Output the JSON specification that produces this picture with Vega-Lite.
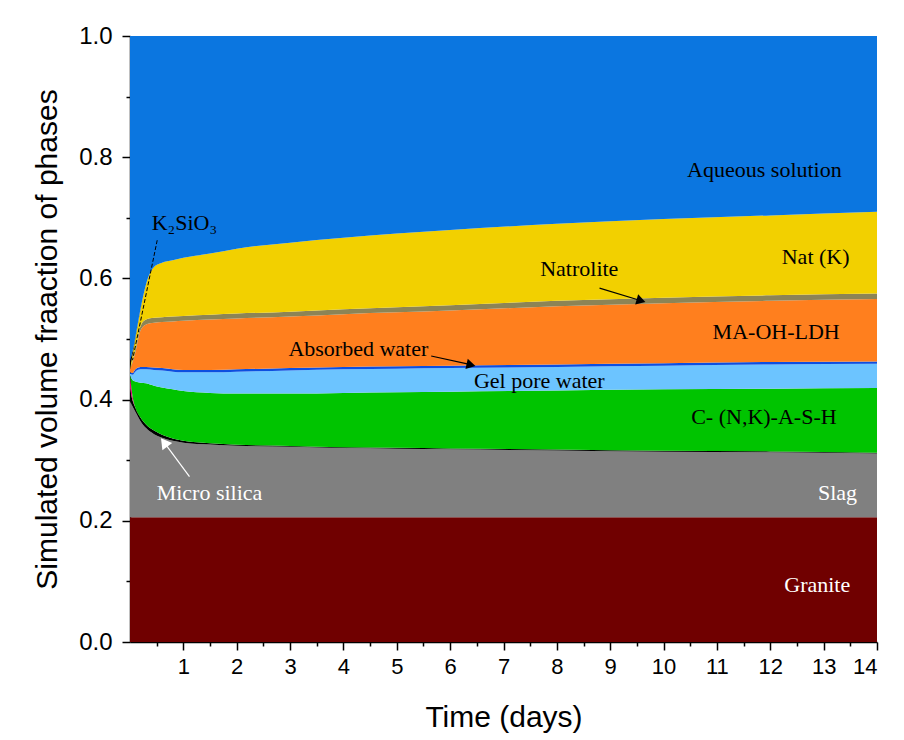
{
"$schema": "https://vega.github.io/schema/vega-lite/v6.json",
"width": 747, "height": 606,
"autosize": {"type": "none"},
"padding": {"left": 130, "top": 36, "right": 27, "bottom": 98},
"background": "white",
"config": {"view": {"stroke": null},
 "axis": {"domainColor": "black", "tickColor": "black", "labelColor": "black", "titleColor": "black", "labelFont": "Liberation Sans", "titleFont": "Liberation Sans", "titleFontWeight": "normal", "grid": false, "domainWidth": 1.5, "tickWidth": 1.5}},
"datasets": {
"a": [
{"t":0,"p":"Granite","k":1,"v":0.206},{"t":0,"p":"Slag","k":2,"v":0.192},{"t":0,"p":"Micro silica","k":3,"v":0.020},{"t":0,"p":"Other","k":4,"v":0.022},{"t":0,"p":"C-(N,K)-A-S-H","k":5,"v":0},{"t":0,"p":"Gel pore water","k":6,"v":0.003},{"t":0,"p":"Absorbed water","k":7,"v":0.002},{"t":0,"p":"MA-OH-LDH","k":8,"v":0.005},{"t":0,"p":"Natrolite","k":9,"v":0.001},{"t":0,"p":"Nat (K)","k":10,"v":0.001},{"t":0,"p":"K2SiO3","k":11,"v":0.012},{"t":0,"p":"Aqueous solution","k":12,"v":0.536},
{"t":0.05,"p":"Granite","k":1,"v":0.206},{"t":0.05,"p":"Slag","k":2,"v":0.182},{"t":0.05,"p":"Micro silica","k":3,"v":0.010},{"t":0.05,"p":"Other","k":4,"v":0.006},{"t":0.05,"p":"C-(N,K)-A-S-H","k":5,"v":0.028},{"t":0.05,"p":"Gel pore water","k":6,"v":0.009},{"t":0.05,"p":"Absorbed water","k":7,"v":0.003},{"t":0.05,"p":"MA-OH-LDH","k":8,"v":0.018},{"t":0.05,"p":"Natrolite","k":9,"v":0.003},{"t":0.05,"p":"Nat (K)","k":10,"v":0.010},{"t":0.05,"p":"K2SiO3","k":11,"v":0.006},{"t":0.05,"p":"Aqueous solution","k":12,"v":0.519},
{"t":0.1,"p":"Granite","k":1,"v":0.206},{"t":0.1,"p":"Slag","k":2,"v":0.174},{"t":0.1,"p":"Micro silica","k":3,"v":0.007},{"t":0.1,"p":"Other","k":4,"v":0},{"t":0.1,"p":"C-(N,K)-A-S-H","k":5,"v":0.043},{"t":0.1,"p":"Gel pore water","k":6,"v":0.016},{"t":0.1,"p":"Absorbed water","k":7,"v":0.004},{"t":0.1,"p":"MA-OH-LDH","k":8,"v":0.028},{"t":0.1,"p":"Natrolite","k":9,"v":0.005},{"t":0.1,"p":"Nat (K)","k":10,"v":0.017},{"t":0.1,"p":"K2SiO3","k":11,"v":0.003},{"t":0.1,"p":"Aqueous solution","k":12,"v":0.497},
{"t":0.2,"p":"Granite","k":1,"v":0.206},{"t":0.2,"p":"Slag","k":2,"v":0.158},{"t":0.2,"p":"Micro silica","k":3,"v":0.006},{"t":0.2,"p":"Other","k":4,"v":0},{"t":0.2,"p":"C-(N,K)-A-S-H","k":5,"v":0.058},{"t":0.2,"p":"Gel pore water","k":6,"v":0.022},{"t":0.2,"p":"Absorbed water","k":7,"v":0.004},{"t":0.2,"p":"MA-OH-LDH","k":8,"v":0.061},{"t":0.2,"p":"Natrolite","k":9,"v":0.007},{"t":0.2,"p":"Nat (K)","k":10,"v":0.028},{"t":0.2,"p":"K2SiO3","k":11,"v":0.001},{"t":0.2,"p":"Aqueous solution","k":12,"v":0.449},
{"t":0.3,"p":"Granite","k":1,"v":0.206},{"t":0.3,"p":"Slag","k":2,"v":0.147},{"t":0.3,"p":"Micro silica","k":3,"v":0.006},{"t":0.3,"p":"Other","k":4,"v":0},{"t":0.3,"p":"C-(N,K)-A-S-H","k":5,"v":0.068},{"t":0.3,"p":"Gel pore water","k":6,"v":0.023},{"t":0.3,"p":"Absorbed water","k":7,"v":0.004},{"t":0.3,"p":"MA-OH-LDH","k":8,"v":0.070},{"t":0.3,"p":"Natrolite","k":9,"v":0.008},{"t":0.3,"p":"Nat (K)","k":10,"v":0.058},{"t":0.3,"p":"K2SiO3","k":11,"v":0},{"t":0.3,"p":"Aqueous solution","k":12,"v":0.410},
{"t":0.45,"p":"Granite","k":1,"v":0.206},{"t":0.45,"p":"Slag","k":2,"v":0.137},{"t":0.45,"p":"Micro silica","k":3,"v":0.006},{"t":0.45,"p":"Other","k":4,"v":0},{"t":0.45,"p":"C-(N,K)-A-S-H","k":5,"v":0.074},{"t":0.45,"p":"Gel pore water","k":6,"v":0.026},{"t":0.45,"p":"Absorbed water","k":7,"v":0.004},{"t":0.45,"p":"MA-OH-LDH","k":8,"v":0.074},{"t":0.45,"p":"Natrolite","k":9,"v":0.008},{"t":0.45,"p":"Nat (K)","k":10,"v":0.084},{"t":0.45,"p":"K2SiO3","k":11,"v":0},{"t":0.45,"p":"Aqueous solution","k":12,"v":0.381},
{"t":0.6,"p":"Granite","k":1,"v":0.206},{"t":0.6,"p":"Slag","k":2,"v":0.131},{"t":0.6,"p":"Micro silica","k":3,"v":0.005},{"t":0.6,"p":"Other","k":4,"v":0},{"t":0.6,"p":"C-(N,K)-A-S-H","k":5,"v":0.078},{"t":0.6,"p":"Gel pore water","k":6,"v":0.028},{"t":0.6,"p":"Absorbed water","k":7,"v":0.004},{"t":0.6,"p":"MA-OH-LDH","k":8,"v":0.076},{"t":0.6,"p":"Natrolite","k":9,"v":0.008},{"t":0.6,"p":"Nat (K)","k":10,"v":0.090},{"t":0.6,"p":"K2SiO3","k":11,"v":0},{"t":0.6,"p":"Aqueous solution","k":12,"v":0.374},
{"t":0.8,"p":"Granite","k":1,"v":0.206},{"t":0.8,"p":"Slag","k":2,"v":0.126},{"t":0.8,"p":"Micro silica","k":3,"v":0.004},{"t":0.8,"p":"Other","k":4,"v":0},{"t":0.8,"p":"C-(N,K)-A-S-H","k":5,"v":0.081},{"t":0.8,"p":"Gel pore water","k":6,"v":0.029},{"t":0.8,"p":"Absorbed water","k":7,"v":0.004},{"t":0.8,"p":"MA-OH-LDH","k":8,"v":0.079},{"t":0.8,"p":"Natrolite","k":9,"v":0.008},{"t":0.8,"p":"Nat (K)","k":10,"v":0.093},{"t":0.8,"p":"K2SiO3","k":11,"v":0},{"t":0.8,"p":"Aqueous solution","k":12,"v":0.370},
{"t":1,"p":"Granite","k":1,"v":0.206},{"t":1,"p":"Slag","k":2,"v":0.123},{"t":1,"p":"Micro silica","k":3,"v":0.003},{"t":1,"p":"Other","k":4,"v":0},{"t":1,"p":"C-(N,K)-A-S-H","k":5,"v":0.082},{"t":1,"p":"Gel pore water","k":6,"v":0.031},{"t":1,"p":"Absorbed water","k":7,"v":0.004},{"t":1,"p":"MA-OH-LDH","k":8,"v":0.081},{"t":1,"p":"Natrolite","k":9,"v":0.008},{"t":1,"p":"Nat (K)","k":10,"v":0.096},{"t":1,"p":"K2SiO3","k":11,"v":0},{"t":1,"p":"Aqueous solution","k":12,"v":0.366},
{"t":1.5,"p":"Granite","k":1,"v":0.206},{"t":1.5,"p":"Slag","k":2,"v":0.120},{"t":1.5,"p":"Micro silica","k":3,"v":0.002},{"t":1.5,"p":"Other","k":4,"v":0},{"t":1.5,"p":"C-(N,K)-A-S-H","k":5,"v":0.083},{"t":1.5,"p":"Gel pore water","k":6,"v":0.034},{"t":1.5,"p":"Absorbed water","k":7,"v":0.004},{"t":1.5,"p":"MA-OH-LDH","k":8,"v":0.083},{"t":1.5,"p":"Natrolite","k":9,"v":0.008},{"t":1.5,"p":"Nat (K)","k":10,"v":0.101},{"t":1.5,"p":"K2SiO3","k":11,"v":0},{"t":1.5,"p":"Aqueous solution","k":12,"v":0.359},
{"t":2,"p":"Granite","k":1,"v":0.206},{"t":2,"p":"Slag","k":2,"v":0.118},{"t":2,"p":"Micro silica","k":3,"v":0.0015},{"t":2,"p":"Other","k":4,"v":0},{"t":2,"p":"C-(N,K)-A-S-H","k":5,"v":0.0845},{"t":2,"p":"Gel pore water","k":6,"v":0.036},{"t":2,"p":"Absorbed water","k":7,"v":0.004},{"t":2,"p":"MA-OH-LDH","k":8,"v":0.084},{"t":2,"p":"Natrolite","k":9,"v":0.008},{"t":2,"p":"Nat (K)","k":10,"v":0.107},{"t":2,"p":"K2SiO3","k":11,"v":0},{"t":2,"p":"Aqueous solution","k":12,"v":0.351},
{"t":3,"p":"Granite","k":1,"v":0.206},{"t":3,"p":"Slag","k":2,"v":0.116},{"t":3,"p":"Micro silica","k":3,"v":0.0015},{"t":3,"p":"Other","k":4,"v":0},{"t":3,"p":"C-(N,K)-A-S-H","k":5,"v":0.0865},{"t":3,"p":"Gel pore water","k":6,"v":0.038},{"t":3,"p":"Absorbed water","k":7,"v":0.004},{"t":3,"p":"MA-OH-LDH","k":8,"v":0.085},{"t":3,"p":"Natrolite","k":9,"v":0.008},{"t":3,"p":"Nat (K)","k":10,"v":0.114},{"t":3,"p":"K2SiO3","k":11,"v":0},{"t":3,"p":"Aqueous solution","k":12,"v":0.341},
{"t":4,"p":"Granite","k":1,"v":0.206},{"t":4,"p":"Slag","k":2,"v":0.114},{"t":4,"p":"Micro silica","k":3,"v":0.0015},{"t":4,"p":"Other","k":4,"v":0},{"t":4,"p":"C-(N,K)-A-S-H","k":5,"v":0.0895},{"t":4,"p":"Gel pore water","k":6,"v":0.039},{"t":4,"p":"Absorbed water","k":7,"v":0.004},{"t":4,"p":"MA-OH-LDH","k":8,"v":0.087},{"t":4,"p":"Natrolite","k":9,"v":0.008},{"t":4,"p":"Nat (K)","k":10,"v":0.118},{"t":4,"p":"K2SiO3","k":11,"v":0},{"t":4,"p":"Aqueous solution","k":12,"v":0.333},
{"t":5,"p":"Granite","k":1,"v":0.206},{"t":5,"p":"Slag","k":2,"v":0.113},{"t":5,"p":"Micro silica","k":3,"v":0.0015},{"t":5,"p":"Other","k":4,"v":0},{"t":5,"p":"C-(N,K)-A-S-H","k":5,"v":0.0915},{"t":5,"p":"Gel pore water","k":6,"v":0.039},{"t":5,"p":"Absorbed water","k":7,"v":0.004},{"t":5,"p":"MA-OH-LDH","k":8,"v":0.089},{"t":5,"p":"Natrolite","k":9,"v":0.0085},{"t":5,"p":"Nat (K)","k":10,"v":0.1215},{"t":5,"p":"K2SiO3","k":11,"v":0},{"t":5,"p":"Aqueous solution","k":12,"v":0.326},
{"t":6,"p":"Granite","k":1,"v":0.206},{"t":6,"p":"Slag","k":2,"v":0.112},{"t":6,"p":"Micro silica","k":3,"v":0.0015},{"t":6,"p":"Other","k":4,"v":0},{"t":6,"p":"C-(N,K)-A-S-H","k":5,"v":0.0935},{"t":6,"p":"Gel pore water","k":6,"v":0.039},{"t":6,"p":"Absorbed water","k":7,"v":0.004},{"t":6,"p":"MA-OH-LDH","k":8,"v":0.091},{"t":6,"p":"Natrolite","k":9,"v":0.0085},{"t":6,"p":"Nat (K)","k":10,"v":0.1245},{"t":6,"p":"K2SiO3","k":11,"v":0},{"t":6,"p":"Aqueous solution","k":12,"v":0.320},
{"t":8,"p":"Granite","k":1,"v":0.206},{"t":8,"p":"Slag","k":2,"v":0.110},{"t":8,"p":"Micro silica","k":3,"v":0.0015},{"t":8,"p":"Other","k":4,"v":0},{"t":8,"p":"C-(N,K)-A-S-H","k":5,"v":0.0975},{"t":8,"p":"Gel pore water","k":6,"v":0.039},{"t":8,"p":"Absorbed water","k":7,"v":0.004},{"t":8,"p":"MA-OH-LDH","k":8,"v":0.096},{"t":8,"p":"Natrolite","k":9,"v":0.009},{"t":8,"p":"Nat (K)","k":10,"v":0.127},{"t":8,"p":"K2SiO3","k":11,"v":0},{"t":8,"p":"Aqueous solution","k":12,"v":0.310},
{"t":10,"p":"Granite","k":1,"v":0.206},{"t":10,"p":"Slag","k":2,"v":0.108},{"t":10,"p":"Micro silica","k":3,"v":0.0015},{"t":10,"p":"Other","k":4,"v":0},{"t":10,"p":"C-(N,K)-A-S-H","k":5,"v":0.1015},{"t":10,"p":"Gel pore water","k":6,"v":0.039},{"t":10,"p":"Absorbed water","k":7,"v":0.004},{"t":10,"p":"MA-OH-LDH","k":8,"v":0.099},{"t":10,"p":"Natrolite","k":9,"v":0.009},{"t":10,"p":"Nat (K)","k":10,"v":0.130},{"t":10,"p":"K2SiO3","k":11,"v":0},{"t":10,"p":"Aqueous solution","k":12,"v":0.302},
{"t":12,"p":"Granite","k":1,"v":0.206},{"t":12,"p":"Slag","k":2,"v":0.107},{"t":12,"p":"Micro silica","k":3,"v":0.0015},{"t":12,"p":"Other","k":4,"v":0},{"t":12,"p":"C-(N,K)-A-S-H","k":5,"v":0.1035},{"t":12,"p":"Gel pore water","k":6,"v":0.040},{"t":12,"p":"Absorbed water","k":7,"v":0.004},{"t":12,"p":"MA-OH-LDH","k":8,"v":0.101},{"t":12,"p":"Natrolite","k":9,"v":0.009},{"t":12,"p":"Nat (K)","k":10,"v":0.132},{"t":12,"p":"K2SiO3","k":11,"v":0},{"t":12,"p":"Aqueous solution","k":12,"v":0.296},
{"t":14,"p":"Granite","k":1,"v":0.206},{"t":14,"p":"Slag","k":2,"v":0.105},{"t":14,"p":"Micro silica","k":3,"v":0.0015},{"t":14,"p":"Other","k":4,"v":0},{"t":14,"p":"C-(N,K)-A-S-H","k":5,"v":0.1065},{"t":14,"p":"Gel pore water","k":6,"v":0.040},{"t":14,"p":"Absorbed water","k":7,"v":0.004},{"t":14,"p":"MA-OH-LDH","k":8,"v":0.103},{"t":14,"p":"Natrolite","k":9,"v":0.009},{"t":14,"p":"Nat (K)","k":10,"v":0.135},{"t":14,"p":"K2SiO3","k":11,"v":0},{"t":14,"p":"Aqueous solution","k":12,"v":0.290}
],
"labBlack": [
{"t":11.89,"y":0.779,"s":"Aqueous solution"},
{"t":1.02,"y":0.692,"s":"K₂SiO₃"},
{"t":12.85,"y":0.635,"s":"Nat (K)"},
{"t":8.42,"y":0.616,"s":"Natrolite"},
{"t":12.11,"y":0.512,"s":"MA-OH-LDH"},
{"t":4.28,"y":0.483,"s":"Absorbed water"},
{"t":7.67,"y":0.431,"s":"Gel pore water"},
{"t":11.88,"y":0.372,"s":"C- (N,K)-A-S-H"}
],
"labWhite": [
{"t":13.26,"y":0.246,"s":"Slag"},
{"t":1.49,"y":0.246,"s":"Micro silica"},
{"t":12.88,"y":0.094,"s":"Granite"}
],
"dash": [{"t":0.51,"y":0.663,"t2":0.047,"y2":0.465}],
"arr": [{"t":8.8,"y":0.584,"t2":9.55,"y2":0.564},{"t":5.645,"y":0.472,"t2":6.364,"y2":0.458}],
"headNat": [{"t":9.55,"y":0.564}],
"headAbs": [{"t":6.364,"y":0.4578}],
"arrW": [{"t":1.115,"y":0.273,"t2":0.66,"y2":0.327}],
"headW": [{"t":0.66,"y":0.327}]
},
"layer": [
{"data": {"name": "a"},
 "mark": {"type": "area", "interpolate": "monotone"},
 "encoding": {
  "x": {"field": "t", "type": "quantitative", "scale": {"domain": [0, 14], "nice": false},
        "axis": {"orient": "bottom", "values": [1,2,3,4,5,6,7,8,9,10,11,12,13,14], "tickSize": 8, "labelFontSize": 22, "labelPadding": 6, "title": "Time (days)", "titleFontSize": 30, "titlePadding": 25}},
  "y": {"field": "v", "type": "quantitative", "stack": "zero", "scale": {"domain": [0, 1], "nice": false},
        "axis": {"orient": "left", "values": [0,0.2,0.4,0.6,0.8,1], "format": ".1f", "tickSize": 8, "labelFontSize": 24, "labelPadding": 10, "title": "Simulated volume fraaction of phases", "titleFontSize": 30, "titlePadding": 16}},
  "color": {"field": "p", "type": "nominal", "legend": null,
   "scale": {"domain": ["Granite","Slag","Micro silica","Other","C-(N,K)-A-S-H","Gel pore water","Absorbed water","MA-OH-LDH","Natrolite","Nat (K)","K2SiO3","Aqueous solution"],
             "range": ["#700000","#808080","#000000","#e6007e","#00c400","#6cc4ff","#0d4fe0","#ff7f1e","#8c8456","#f2d000","#000000","#0b76e0"]}},
  "order": {"field": "k", "type": "quantitative"}
 }},
{"data": {"name": "labBlack"},
 "mark": {"type": "point", "opacity": 0},
 "encoding": {
  "x": {"field": "t", "type": "quantitative", "axis": {"orient": "bottom", "values": [0.5,1.5,2.5,3.5,4.5,5.5,6.5,7.5,8.5,9.5,10.5,11.5,12.5,13.5], "tickSize": 4, "labels": false, "domain": false, "title": null}},
  "y": {"field": "y", "type": "quantitative", "axis": {"orient": "left", "values": [0.1,0.3,0.5,0.7,0.9], "tickSize": 4, "labels": false, "domain": false, "title": null}}
 }},
{"data": {"name": "dash"},
 "mark": {"type": "rule", "color": "black", "strokeWidth": 1, "strokeDash": [4, 2]},
 "encoding": {"x": {"field": "t", "type": "quantitative", "axis": null}, "y": {"field": "y", "type": "quantitative", "axis": null}, "x2": {"field": "t2"}, "y2": {"field": "y2"}}},
{"data": {"name": "arr"},
 "mark": {"type": "rule", "color": "black", "strokeWidth": 1.2},
 "encoding": {"x": {"field": "t", "type": "quantitative", "axis": null}, "y": {"field": "y", "type": "quantitative", "axis": null}, "x2": {"field": "t2"}, "y2": {"field": "y2"}}},
{"data": {"name": "headNat"},
 "mark": {"type": "point", "shape": "triangle", "filled": true, "color": "black", "size": 110, "angle": 106.6, "opacity": 1},
 "encoding": {"x": {"field": "t", "type": "quantitative", "axis": null}, "y": {"field": "y", "type": "quantitative", "axis": null}}},
{"data": {"name": "headAbs"},
 "mark": {"type": "point", "shape": "triangle", "filled": true, "color": "black", "size": 110, "angle": 102.6, "opacity": 1},
 "encoding": {"x": {"field": "t", "type": "quantitative", "axis": null}, "y": {"field": "y", "type": "quantitative", "axis": null}}},
{"data": {"name": "arrW"},
 "mark": {"type": "rule", "color": "white", "strokeWidth": 1.2},
 "encoding": {"x": {"field": "t", "type": "quantitative", "axis": null}, "y": {"field": "y", "type": "quantitative", "axis": null}, "x2": {"field": "t2"}, "y2": {"field": "y2"}}},
{"data": {"name": "headW"},
 "mark": {"type": "point", "shape": "triangle", "filled": true, "color": "white", "size": 150, "angle": 323.4, "opacity": 1},
 "encoding": {"x": {"field": "t", "type": "quantitative", "axis": null}, "y": {"field": "y", "type": "quantitative", "axis": null}}},
{"data": {"name": "labBlack"},
 "mark": {"type": "text", "font": "Liberation Serif", "fontSize": 22, "color": "black", "align": "center", "baseline": "middle"},
 "encoding": {"x": {"field": "t", "type": "quantitative", "axis": null}, "y": {"field": "y", "type": "quantitative", "axis": null}, "text": {"field": "s"}}},
{"data": {"name": "labWhite"},
 "mark": {"type": "text", "font": "Liberation Serif", "fontSize": 22, "color": "white", "align": "center", "baseline": "middle"},
 "encoding": {"x": {"field": "t", "type": "quantitative", "axis": null}, "y": {"field": "y", "type": "quantitative", "axis": null}, "text": {"field": "s"}}}
],
"resolve": {"axis": {"x": "independent", "y": "independent"}}
}
